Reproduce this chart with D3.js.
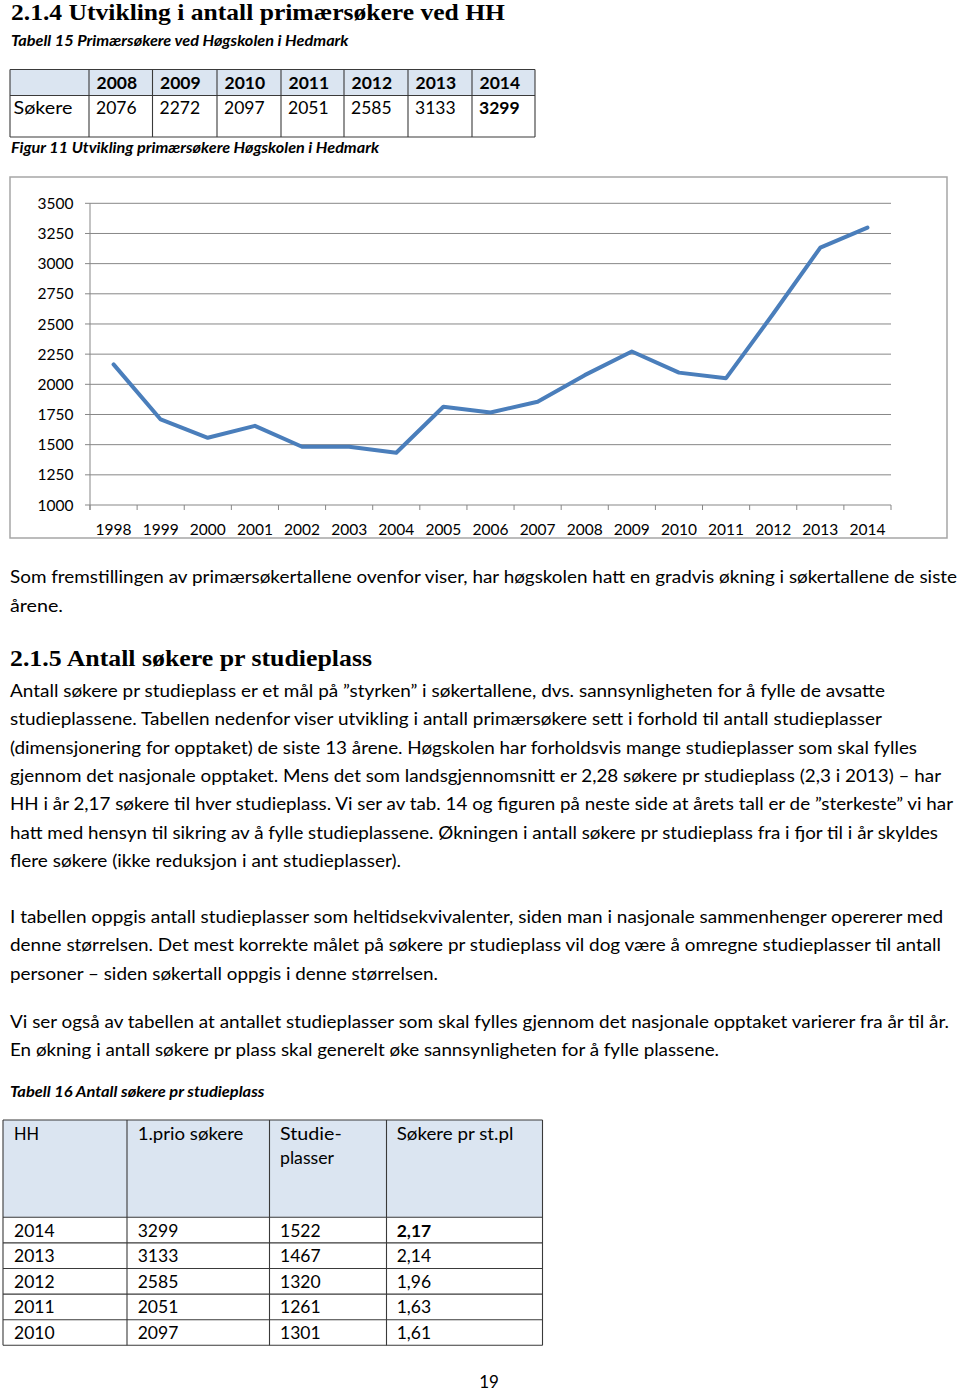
<!DOCTYPE html>
<html>
<head>
<meta charset="utf-8">
<script src="https://cdn.jsdelivr.net/npm/d3@7"></script>
<style>
html,body{margin:0;padding:0;background:#fff;}
svg{display:block;}
</style>
</head>
<body>
<div id="page"></div>
<script>
// ---------- DATA ----------
const chartYears = ["1998","1999","2000","2001","2002","2003","2004","2005","2006","2007","2008","2009","2010","2011","2012","2013","2014"];
const chartValues = [2165,1709,1557,1656,1483,1483,1433,1814,1767,1855,2076,2272,2097,2051,2585,3133,3299];
const yTicks = [1000,1250,1500,1750,2000,2250,2500,2750,3000,3250,3500];

const t15Label = "Søkere";
const t15Years = ["2008","2009","2010","2011","2012","2013","2014"];
const t15Values = ["2076","2272","2097","2051","2585","3133","3299"];

const t16Header = [["HH"],["1.prio søkere"],["Studie-","plasser"],["Søkere pr st.pl"]];
const t16Years = ["2014","2013","2012","2011","2010"];
const t16Applicants = ["3299","3133","2585","2051","2097"];
const t16Places = ["1522","1467","1320","1261","1301"];
const t16Ratio = ["2,17","2,14","1,96","1,63","1,61"];

const title1 = "2.1.4 Utvikling i antall primærsøkere ved HH";
const caption15 = "Tabell 15 Primærsøkere ved Høgskolen i Hedmark";
const caption11 = "Figur 11 Utvikling primærsøkere Høgskolen i Hedmark";
const para1 = ["Som fremstillingen av primærsøkertallene ovenfor viser, har høgskolen hatt en gradvis økning i søkertallene de siste","årene."];
const title2 = "2.1.5 Antall søkere pr studieplass";
const para2 = [
 "Antall søkere pr studieplass er et mål på ”styrken” i søkertallene, dvs. sannsynligheten for å fylle de avsatte",
 "studieplassene. Tabellen nedenfor viser utvikling i antall primærsøkere sett i forhold til antall studieplasser",
 "(dimensjonering for opptaket) de siste 13 årene. Høgskolen har forholdsvis mange studieplasser som skal fylles",
 "gjennom det nasjonale opptaket. Mens det som landsgjennomsnitt er 2,28 søkere pr studieplass (2,3 i 2013) – har",
 "HH i år 2,17 søkere til hver studieplass. Vi ser av tab. 14 og figuren på neste side at årets tall er de ”sterkeste” vi har",
 "hatt med hensyn til sikring av å fylle studieplassene. Økningen i antall søkere pr studieplass fra i fjor til i år skyldes",
 "flere søkere (ikke reduksjon i ant studieplasser)."];
const para3 = [
 "I tabellen oppgis antall studieplasser som heltidsekvivalenter, siden man i nasjonale sammenhenger opererer med",
 "denne størrelsen. Det mest korrekte målet på søkere pr studieplass vil dog være å omregne studieplasser til antall",
 "personer – siden søkertall oppgis i denne størrelsen."];
const para4 = [
 "Vi ser også av tabellen at antallet studieplasser som skal fylles gjennom det nasjonale opptaket varierer fra år til år.",
 "En økning i antall søkere pr plass skal generelt øke sannsynligheten for å fylle plassene."];
const caption16 = "Tabell 16 Antall søkere pr studieplass";
const pageNumber = "19";

// ---------- LAYOUT ----------
const W = 960, H = 1392;
const sans = "Lato, 'Open Sans', sans-serif";
const serif = "'Liberation Serif', 'DejaVu Serif', serif";

const svg = d3.select("#page").append("svg")
  .attr("width", W).attr("height", H)
  .attr("viewBox", `0 0 ${W} ${H}`);
svg.append("rect").attr("width", W).attr("height", H).attr("fill", "#fff");

function txt(s, x, y, o) {
  o = o || {};
  const t = svg.append("text")
    .attr("x", x).attr("y", y)
    .attr("font-family", o.family || sans)
    .attr("font-size", o.size || 16.5)
    .attr("font-weight", o.weight || "normal")
    .attr("font-style", o.style || "normal")
    .attr("fill", o.fill || "#000")
    .attr("text-anchor", o.anchor || "start")
    .text(s);
  if (o.w) t.attr("textLength", o.w).attr("lengthAdjust", "spacingAndGlyphs");
  return t;
}

// Headings and captions
txt(title1, 11, 19.5, {family: serif, size: 24, weight: "bold", w: 494});
txt(caption15, 11, 45.5, {size: 15, weight: "bold", style: "italic", w: 337.5});
txt(caption11, 11, 153, {size: 15, weight: "bold", style: "italic", w: 368});

// ---------- TABLE 15 ----------
(function(){
  const cols = [10, 89, 152.5, 217, 281, 344, 408, 472, 535];
  const top = 69.5, mid = 95.5, bot = 137;
  const g = svg.append("g");
  g.append("rect").attr("x", cols[0]).attr("y", top).attr("width", cols[8]-cols[0]).attr("height", mid-top).attr("fill", "#dbe5f1");
  // header
  g.selectAll("text.h").data(t15Years).join("text")
    .attr("x", (d,i) => cols[i+1] + 7.5).attr("y", 88.5)
    .attr("font-family", sans).attr("font-size", 17.5).attr("font-weight", "bold")
    .text(d => d);
  txt(t15Label, 13.5, 114, {size: 17.5, w: 59});
  g.selectAll("text.v").data(t15Values).join("text")
    .attr("x", (d,i) => cols[i+1] + 7).attr("y", 114)
    .attr("font-family", sans).attr("font-size", 17.5)
    .attr("font-weight", (d,i) => i === t15Values.length-1 ? "bold" : "normal")
    .text(d => d);
  // grid lines
  const stroke = "#3a3a3a";
  [top, mid, bot].forEach(y => g.append("line").attr("x1", cols[0]).attr("x2", cols[8]).attr("y1", y).attr("y2", y).attr("stroke", stroke).attr("stroke-width", 1.1));
  cols.forEach(x => g.append("line").attr("x1", x).attr("x2", x).attr("y1", top).attr("y2", bot).attr("stroke", stroke).attr("stroke-width", 1.1));
})();

// ---------- CHART ----------
(function(){
  const frame = {x: 10, y: 177, w: 937, h: 361};
  const left = 90, right = 891, topY = 203.3, botY = 505;
  svg.append("rect").attr("x", frame.x).attr("y", frame.y).attr("width", frame.w).attr("height", frame.h)
    .attr("fill", "#fff").attr("stroke", "#a6a6a6").attr("stroke-width", 1.5);

  const x = d3.scaleBand().domain(chartYears).range([left, right]).padding(0);
  const y = d3.scaleLinear().domain([1000, 3500]).range([botY, topY]);
  const g = svg.append("g");

  // gridlines + y ticks
  g.selectAll("line.grid").data(yTicks).join("line")
    .attr("x1", left - 5).attr("x2", right)
    .attr("y1", d => y(d)).attr("y2", d => y(d))
    .attr("stroke", "#878787").attr("stroke-width", 1);
  // y axis line
  g.append("line").attr("x1", left).attr("x2", left).attr("y1", y(3500)).attr("y2", botY + 5)
    .attr("stroke", "#878787").attr("stroke-width", 1);
  // x ticks at category boundaries
  const bounds = chartYears.map(d => x(d)).concat([right]);
  g.selectAll("line.xt").data(bounds).join("line")
    .attr("x1", d => d).attr("x2", d => d).attr("y1", botY).attr("y2", botY + 5)
    .attr("stroke", "#878787").attr("stroke-width", 1);
  // y labels
  g.selectAll("text.yl").data(yTicks).join("text")
    .attr("x", 73.5).attr("y", d => y(d)).attr("dy", "0.36em")
    .attr("text-anchor", "end").attr("font-family", sans).attr("font-size", 15.5).attr("fill", "#000")
    .text(d => d);
  // x labels
  g.selectAll("text.xl").data(chartYears).join("text")
    .attr("x", d => x(d) + x.bandwidth()/2).attr("y", 535)
    .attr("text-anchor", "middle").attr("font-family", sans).attr("font-size", 15.5).attr("fill", "#000")
    .text(d => d);
  // line
  const pts = chartYears.map((d,i) => ({year: d, value: chartValues[i]}));
  const line = d3.line().x(d => x(d.year) + x.bandwidth()/2).y(d => y(d.value));
  g.append("path").datum(pts).attr("d", line)
    .attr("fill", "none").attr("stroke", "#4a7ebb").attr("stroke-width", 4)
    .attr("stroke-linejoin", "round").attr("stroke-linecap", "round");
})();

// ---------- BODY TEXT ----------
const p1w = [947, 53];
para1.forEach((s,i) => txt(s, 10, 583.3 + i*28.4, {w: p1w[i]}));
txt(title2, 10, 666, {family: serif, size: 24, weight: "bold", w: 362});
const p2w = [875, 872, 907, 931, 943, 928, 391];
para2.forEach((s,i) => txt(s, 10, 696.8 + i*28.37, {w: p2w[i]}));
const p3w = [933, 931, 428];
para3.forEach((s,i) => txt(s, 10, 922.7 + i*28.6, {w: p3w[i]}));
const p4w = [939, 709];
para4.forEach((s,i) => txt(s, 10, 1027.7 + i*28.4, {w: p4w[i]}));
txt(caption16, 10, 1097, {size: 15, weight: "bold", style: "italic", w: 254.5});

// ---------- TABLE 16 ----------
(function(){
  const cols = [3, 127, 269.5, 386.5, 542.5];
  const top = 1120, headBot = 1217.3, rowH = 25.6;
  const nRows = t16Years.length;
  const bot = headBot + nRows*rowH;
  const g = svg.append("g");
  g.append("rect").attr("x", cols[0]).attr("y", top).attr("width", cols[4]-cols[0]).attr("height", headBot-top).attr("fill", "#dbe5f1");
  const pad = [11, 10.7, 10.5, 10.2];
  const headW = [[25], [105.7], [61.7, 54], [116.7]];
  t16Header.forEach((lines, c) => {
    lines.forEach((s, k) => txt(s, cols[c] + pad[c], 1140 + k*24.3, {size: 17.5, w: headW[c][k]}));
  });
  const columns = [t16Years, t16Applicants, t16Places, t16Ratio];
  columns.forEach((arr, c) => {
    g.selectAll(null).data(arr).join("text")
      .attr("x", cols[c] + pad[c]).attr("y", (d,i) => headBot + i*rowH + 19.3)
      .attr("font-family", sans).attr("font-size", 17.5)
      .attr("font-weight", (d,i) => (c === 3 && i === 0) ? "bold" : "normal")
      .text(d => d);
  });
  const stroke = "#3a3a3a";
  const hs = [top, headBot].concat(d3.range(1, nRows+1).map(i => headBot + i*rowH));
  hs.forEach(y => g.append("line").attr("x1", cols[0]).attr("x2", cols[4]).attr("y1", y).attr("y2", y).attr("stroke", stroke).attr("stroke-width", 1.1));
  cols.forEach(x => g.append("line").attr("x1", x).attr("x2", x).attr("y1", top).attr("y2", bot).attr("stroke", stroke).attr("stroke-width", 1.1));
})();

txt(pageNumber, 489, 1388, {size: 17, anchor: "middle"});
</script>
</body>
</html>
